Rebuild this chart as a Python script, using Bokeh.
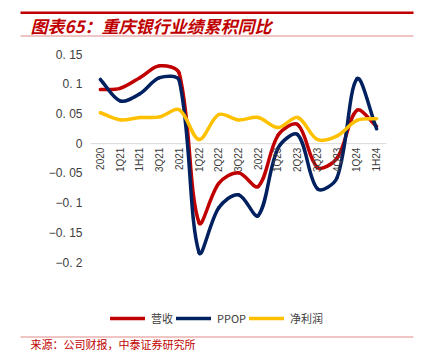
import numpy as np
from bokeh.plotting import figure
from bokeh.models import (Range1d, Label, BoxAnnotation, Legend, LegendItem,
                          ColumnDataSource)
from bokeh.core.properties import value
from bokeh.embed import file_html
from bokeh.resources import INLINE

categories = ["2020", "1Q21", "1H21", "3Q21", "2021", "1Q22", "2Q22", "3Q22",
              "2022", "1Q23", "2Q23", "3Q23", "4Q23", "1Q24", "1H24"]
revenue = [0.091, 0.093, 0.111, 0.131, 0.118, -0.133, -0.067, -0.049,
           -0.072, 0.014, 0.032, -0.040, -0.024, 0.056, 0.029]
ppop = [0.108, 0.072, 0.084, 0.111, 0.106, -0.183, -0.108, -0.086,
        -0.121, -0.008, 0.015, -0.076, -0.057, 0.109, 0.025]
net_profit = [0.052, 0.040, 0.044, 0.045, 0.057, 0.007, 0.049, 0.040,
              0.044, 0.027, 0.044, 0.007, 0.013, 0.039, 0.042]
series_names = ["营收", "PPOP", "净利润"]
y_ticks = [-0.2, -0.15, -0.1, -0.05, 0, 0.05, 0.1, 0.15]
y_tick_labels = ["−0. 2", "−0. 15", "−0. 1", "−0. 05", "0", "0. 05", "0. 1", "0. 15"]
title_text = "图表65：重庆银行业绩累积同比"
source_text = "来源：公司财报，中泰证券研究所"

W, H = 430, 351
RED = "#C00000"
RULE = "#E38A8A"
TXT = "#404040"
COLORS = ["#C00000", "#002060", "#FFC000"]
# plot-area box in page pixels
PL, PR, PT, PB = 90, 386, 54, 262

n = len(categories)
KX = (PR - PL) / n
KY = (PB - PT) / (y_ticks[-1] - y_ticks[0])
xlo, xhi = -0.5, n - 0.5
ylo, yhi = y_ticks[0], y_ticks[-1]

p = figure(width=W, height=H, output_backend="svg", toolbar_location=None,
           x_range=Range1d(xlo - PL / KX, xhi + (W - PR) / KX),
           y_range=Range1d(ylo - (H - PB) / KY, yhi + PT / KY),
           x_axis_location=None, y_axis_location=None, min_border=0)
p.outline_line_color = None
p.grid.visible = False
p.extra_x_ranges = {"px": Range1d(0, W)}
p.extra_y_ranges = {"px": Range1d(H, 0)}

# zero axis line
p.segment(x0=[xlo], x1=[xhi], y0=[0], y1=[0], line_color="#D9D9D9", line_width=1)

# y tick labels
p.text(x=[xlo] * len(y_ticks), y=y_ticks, text=y_tick_labels, x_offset=-8,
       text_align="right", text_baseline="middle",
       text_font=value("Liberation Sans"), text_font_size="12px", text_color=TXT)


def smooth_source(ys, s=1.0 / 3.0):
    m = len(ys)
    P = np.column_stack([np.arange(m) * KX, np.asarray(ys, float) * KY])
    fwd = np.zeros_like(P)
    bwd = np.zeros_like(P)
    for i in range(m):
        a = P[max(i - 1, 0)]
        b = P[min(i + 1, m - 1)]
        T = b - a
        d1 = np.linalg.norm(P[i] - a)
        d2 = np.linalg.norm(b - P[i])
        tot = d1 + d2 if d1 + d2 > 0 else 1.0
        fwd[i] = P[i] + T * (d2 / tot) * s
        bwd[i] = P[i] - T * (d1 / tot) * s
    d = dict(x0=[], y0=[], x1=[], y1=[], cx0=[], cy0=[], cx1=[], cy1=[])
    for i in range(m - 1):
        d["x0"].append(P[i, 0] / KX); d["y0"].append(P[i, 1] / KY)
        d["x1"].append(P[i + 1, 0] / KX); d["y1"].append(P[i + 1, 1] / KY)
        d["cx0"].append(fwd[i, 0] / KX); d["cy0"].append(fwd[i, 1] / KY)
        d["cx1"].append(bwd[i + 1, 0] / KX); d["cy1"].append(bwd[i + 1, 1] / KY)
    return ColumnDataSource(d)


renderers = []
for ys, col in zip([revenue, ppop, net_profit], COLORS):
    r = p.bezier(x0="x0", y0="y0", x1="x1", y1="y1", cx0="cx0", cy0="cy0",
                 cx1="cx1", cy1="cy1", source=smooth_source(ys), line_color=col,
                 line_width=3.5, line_cap="round")
    renderers.append(r)

# category labels hanging below the zero line
lab_src = ColumnDataSource(dict(x=list(range(n)), y=[0] * n, text=categories))
p.text(x="x", y="y", text="text", source=lab_src, angle=np.pi / 2,
       text_align="right", text_baseline="middle", y_offset=4,
       text_font=value("Liberation Sans"), text_font_size="10px",
       text_color=TXT)

legend = Legend(items=[LegendItem(label=nm, renderers=[r])
                       for nm, r in zip(series_names, renderers)],
                orientation="horizontal", location=(110, 25),
                glyph_width=35, glyph_height=16, label_standoff=6, spacing=3,
                padding=0, margin=0, border_line_color=None,
                background_fill_alpha=0,
                label_text_font="Noto Sans CJK SC", label_text_font_size="11px",
                label_text_color=TXT)
p.add_layout(legend, "center")

# header and footer decorations (page-pixel ranges)
kw = dict(x_range_name="px", y_range_name="px", fill_alpha=1, line_color=None)
p.add_layout(BoxAnnotation(left=20, right=413, top=11, bottom=13.5, fill_color=RED, **kw))
p.add_layout(BoxAnnotation(left=20, right=413, top=35, bottom=36, fill_color=RULE, **kw))
p.add_layout(BoxAnnotation(left=20, right=413, top=336, bottom=337, fill_color=RULE, **kw))

p.add_layout(Label(x=30, y=24.5, x_range_name="px", y_range_name="px",
                   text=title_text, text_color=RED, text_font="Noto Sans CJK SC",
                   text_font_style="bold italic", text_font_size="17px",
                   text_baseline="middle", text_align="left"))
p.add_layout(Label(x=30, y=343.5, x_range_name="px", y_range_name="px",
                   text=source_text, text_color=RED, text_font="Noto Sans CJK SC",
                   text_font_size="11px", text_baseline="middle",
                   text_align="left"))

open("out.html", "w").write(file_html(p, INLINE))
